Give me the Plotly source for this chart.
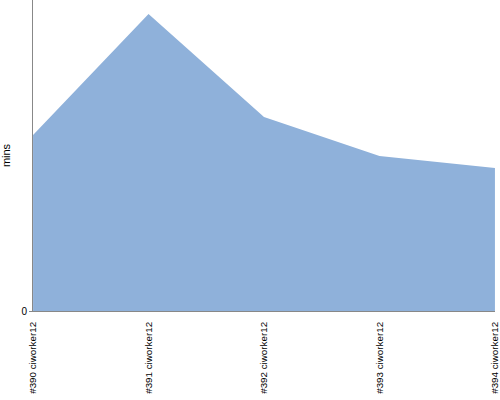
import plotly.graph_objects as go

categories = ["#390 ciworker12", "#391 ciworker12", "#392 ciworker12", "#393 ciworker12", "#394 ciworker12"]
values = [17.6, 29.7, 19.4, 15.5, 14.3]
y_ticks = [0]
y_tick_labels = ["0"]

fig = go.Figure(go.Scatter(
    x=categories, y=values, mode="lines", fill="tozeroy",
    line=dict(color="#8fb1da", width=0), fillcolor="#8fb1da",
    hoverinfo="x+y",
))

fig.update_layout(
    width=500, height=400,
    margin=dict(l=33, r=5, t=0, b=89),
    paper_bgcolor="white", plot_bgcolor="white",
    showlegend=False,
    font=dict(family="Liberation Sans, Arial, sans-serif", size=10, color="#000"),
)
fig.update_xaxes(
    type="category", range=[-0.0005, 4.0005], tickangle=-90,
    showline=True, linecolor="#888", linewidth=1,
    showgrid=False, zeroline=False, automargin=False,
    ticks="", ticklabelstandoff=6,
    tickfont=dict(size=9.8, family="Liberation Sans, Arial, sans-serif"),
)
fig.update_yaxes(
    range=[0, 31.1], tickvals=y_ticks, ticktext=y_tick_labels,
    showline=True, linecolor="#888", linewidth=1, automargin=False,
    showgrid=False, zeroline=False, ticks="outside", ticklen=3, tickcolor="#888",
    title=dict(text="mins", font=dict(size=11), standoff=11),
)

fig.write_html("out.html", config={"displayModeBar": False},
               post_script="document.body.style.margin='0';document.body.style.padding='0';")
